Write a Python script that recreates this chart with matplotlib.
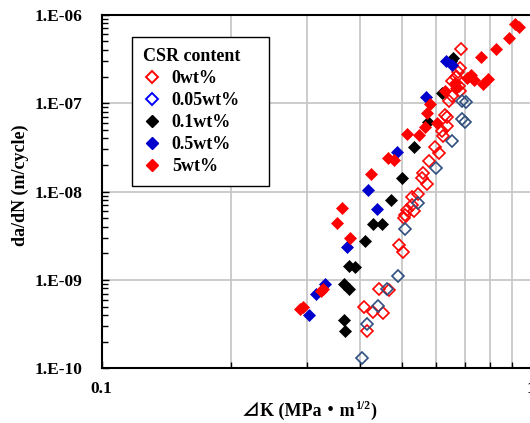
import matplotlib
matplotlib.use("Agg")
import matplotlib.pyplot as plt
from matplotlib.lines import Line2D
from matplotlib.ticker import FixedLocator, FuncFormatter, NullFormatter, LogLocator

# ---------------- data ----------------
# 0wt%
dk_0 = [0.685, 0.682, 0.673, 0.666, 0.652, 0.678, 0.682, 0.652, 0.644, 0.631,
        0.636, 0.635, 0.620, 0.624, 0.595, 0.611, 0.579, 0.560, 0.556, 0.570,
        0.545, 0.528, 0.526, 0.513, 0.534, 0.508, 0.504, 0.492, 0.502, 0.443,
        0.467, 0.408, 0.429, 0.451, 0.414]
da_0 = [4.10e-7, 2.48e-7, 2.27e-7, 1.96e-7, 1.76e-7, 1.55e-7, 1.36e-7, 1.19e-7, 1.06e-7, 7.29e-8,
        7.01e-8, 5.45e-8, 4.78e-8, 4.20e-8, 3.21e-8, 2.74e-8, 2.23e-8, 1.61e-8, 1.43e-8, 1.21e-8,
        9.42e-9, 8.59e-9, 7.07e-9, 6.21e-9, 5.97e-9, 5.45e-9, 5.00e-9, 2.51e-9, 2.05e-9, 7.97e-10,
        7.71e-10, 4.99e-10, 4.32e-10, 4.23e-10, 2.63e-10]
# 0.05wt%
dk_005 = [0.688, 0.703, 0.688, 0.699, 0.655, 0.600, 0.545, 0.508, 0.489, 0.462,
          0.440, 0.414, 0.403]
da_005 = [1.06e-7, 1.03e-7, 6.57e-8, 6.15e-8, 3.68e-8, 1.84e-8, 7.45e-9, 3.76e-9, 1.10e-9, 7.85e-10,
          5.04e-10, 3.20e-10, 1.32e-10]
# 0.1wt%
dk_01 = [0.658, 0.650, 0.619, 0.576, 0.534, 0.501, 0.471, 0.429, 0.448, 0.410,
         0.377, 0.389, 0.366, 0.377, 0.367, 0.368]
da_01 = [3.24e-7, 3.02e-7, 1.30e-7, 6.08e-8, 3.21e-8, 1.43e-8, 8.0e-9, 4.25e-9, 4.33e-9, 2.72e-9,
         1.44e-9, 1.41e-9, 9.08e-10, 7.97e-10, 3.52e-10, 2.64e-10]
# 0.5wt%
dk_05 = [0.632, 0.652, 0.568, 0.487, 0.416, 0.437, 0.372, 0.330, 0.316, 0.304]
da_05 = [2.97e-7, 2.72e-7, 1.17e-7, 2.78e-8, 1.03e-8, 6.32e-9, 2.38e-9, 8.89e-10, 6.98e-10, 4.05e-10]
# 5wt%
dk_5 = [0.916, 0.936, 0.887, 0.827, 0.762, 0.723, 0.707, 0.735, 0.791, 0.770,
        0.664, 0.668, 0.629, 0.581, 0.572, 0.604, 0.565, 0.548, 0.513, 0.463,
        0.479, 0.423, 0.363, 0.353, 0.378, 0.327, 0.323, 0.294, 0.289]
da_5 = [7.92e-7, 7.28e-7, 5.46e-7, 4.10e-7, 3.30e-7, 2.10e-7, 1.92e-7, 1.81e-7, 1.87e-7, 1.66e-7,
        1.69e-7, 1.48e-7, 1.36e-7, 9.72e-8, 7.69e-8, 6.00e-8, 5.33e-8, 4.33e-8, 4.50e-8, 2.41e-8,
        2.25e-8, 1.59e-8, 6.54e-9, 4.42e-9, 2.99e-9, 7.85e-10, 7.41e-10, 4.99e-10, 4.66e-10]

labels = ["0wt%", "0.05wt%", "0.1wt%", "0.5wt%", "5wt%"]
legend_title = "CSR content"
x_ticks = [0.1, 1.0]
x_ticklabels = ["0.1", "1"]
y_ticks = [1e-10, 1e-9, 1e-8, 1e-7, 1e-6]
y_ticklabels = ["1.E-10", "1.E-09", "1.E-08", "1.E-07", "1.E-06"]

# ---------------- style ----------------
SERIF = ["Liberation Serif", "DejaVu Serif"]
plt.rcParams["font.family"] = SERIF
plt.rcParams["font.weight"] = "bold"

fig = plt.figure(figsize=(5.30, 4.23), dpi=100)
ax = fig.add_axes([0.1919, 0.1293, 0.8108, 0.8359])

ax.set_xscale("log")
ax.set_yscale("log")
ax.set_xlim(0.1, 1.0)
ax.set_ylim(1e-10, 1e-6)

# grid
for v in [0.2, 0.3, 0.4, 0.5, 0.6, 0.7, 0.8, 0.9]:
    ax.axvline(v, color="#c8c8c8", lw=1.3, zorder=0)
for v in [1e-9, 1e-8, 1e-7]:
    ax.axhline(v, color="#c8c8c8", lw=1.3, zorder=0)

RED = "#ff0000"
NAVY = "#2f4f7f"
BLK = "#000000"
BLU = "#0000cc"

ax.plot(dk_0, da_0, ls="none", marker="D", ms=6.0, mfc="none", mec=RED, mew=1.2, zorder=3)
ax.plot(dk_005, da_005, ls="none", marker="D", ms=6.0, mfc="none", mec=NAVY, mew=1.2, zorder=3)
ax.plot(dk_01, da_01, ls="none", marker="D", ms=6.3, mfc=BLK, mec=BLK, mew=0.5, zorder=4)
ax.plot(dk_05, da_05, ls="none", marker="D", ms=6.3, mfc=BLU, mec=BLU, mew=0.5, zorder=4)
ax.plot(dk_5, da_5, ls="none", marker="D", ms=6.3, mfc=RED, mec=RED, mew=0.5, zorder=5)

# ticks
ax.xaxis.set_major_locator(FixedLocator(x_ticks))
ax.xaxis.set_major_formatter(FuncFormatter(lambda v, p: x_ticklabels[x_ticks.index(v)] if v in x_ticks else ""))
ax.xaxis.set_minor_locator(LogLocator(base=10, subs=range(2, 10)))
ax.xaxis.set_minor_formatter(NullFormatter())
ax.yaxis.set_major_locator(FixedLocator(y_ticks))
ax.yaxis.set_major_formatter(FuncFormatter(lambda v, p: y_ticklabels[min(range(len(y_ticks)), key=lambda i: abs(y_ticks[i] / v - 1))]))
ax.yaxis.set_minor_locator(LogLocator(base=10, subs=range(2, 10)))
ax.yaxis.set_minor_formatter(NullFormatter())

ax.tick_params(axis="both", which="both", direction="in", width=1.0, color="black")
ax.tick_params(axis="both", which="major", length=5)
ax.tick_params(axis="both", which="minor", length=4)
ax.tick_params(axis="x", which="major", pad=9, labelsize=12.5)
ax.tick_params(axis="y", which="major", pad=14, labelsize=12.5)
for lab in ax.get_xticklabels() + ax.get_yticklabels():
    lab.set_fontweight("bold")

for s in ax.spines.values():
    s.set_linewidth(1.5)
    s.set_color("black")

# axis labels
fig.text(20 / 530, 1 - 185 / 423, "da/dN (m/cycle)", rotation=90, ha="center", va="center",
         fontsize=13, fontweight="bold", family=SERIF)

base_y = 1 - 416 / 423
t1 = fig.text(241.5 / 530, base_y, "\u22bfK (MPa\u30fbm", ha="left", va="baseline",
              fontsize=13, fontweight="bold", family=["Liberation Serif", "Noto Sans CJK JP", "DejaVu Sans"])
fig.canvas.draw()
r = fig.canvas.get_renderer()
e1 = t1.get_window_extent(r)
W, H = fig.bbox.width, fig.bbox.height
t2 = fig.text(e1.x1 / W + 0.5 / 530, base_y + 7.5 / 423, "1/2", ha="left", va="baseline",
              fontsize=8.5, fontweight="bold", family=SERIF)
fig.canvas.draw()
e2 = t2.get_window_extent(r)
t3 = fig.text(e2.x1 / W + 0.5 / 530, base_y, ")", ha="left", va="baseline",
              fontsize=13, fontweight="bold", family=SERIF)

# legend
handles = [
    Line2D([], [], ls="none", marker="D", ms=6.0, mfc="none", mec=RED, mew=1.4),
    Line2D([], [], ls="none", marker="D", ms=6.0, mfc="none", mec="#0000ff", mew=1.4),
    Line2D([], [], ls="none", marker="D", ms=6.3, mfc=BLK, mec=BLK),
    Line2D([], [], ls="none", marker="D", ms=6.3, mfc=BLU, mec=BLU),
    Line2D([], [], ls="none", marker="D", ms=6.3, mfc=RED, mec=RED),
]
leg = ax.legend(handles, labels, title=legend_title + "    ", loc="upper left",
                bbox_to_anchor=(0.0705, 0.937), borderaxespad=0, frameon=True, fancybox=False,
                edgecolor="black", framealpha=1, prop={"family": SERIF, "weight": "bold", "size": 13},
                title_fontproperties={"family": SERIF, "weight": "bold", "size": 13},
                alignment="left", borderpad=0.6, handlelength=1.0, handletextpad=0.6,
                labelspacing=0.28)
leg.get_frame().set_linewidth(1.0)
leg.set_zorder(10)

fig.savefig("out.png", dpi=100)
